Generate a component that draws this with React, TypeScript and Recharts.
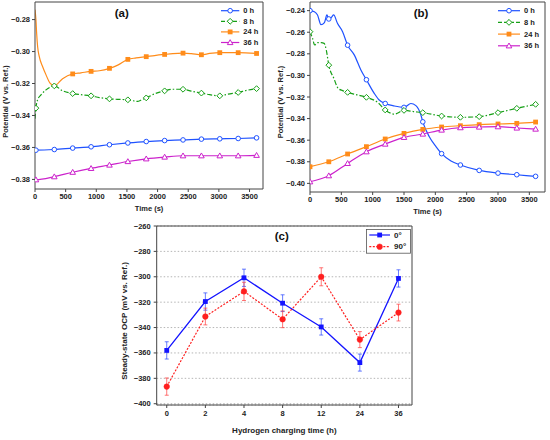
import React from 'react';
import { LineChart, Line, XAxis, YAxis, ReferenceLine, CartesianGrid, ErrorBar } from 'recharts';

// ---- panel (a): OCP vs time, first specimen set ----
const A_MARKS = [15, 315, 615, 915, 1215, 1515, 1815, 2115, 2415, 2715, 3015, 3315, 3615];

const A_0H_T = [0, ...A_MARKS];
const A_0H_V = [-0.3612, -0.3617, -0.3613, -0.3604, -0.3596, -0.3583, -0.3572, -0.3563, -0.3557, -0.3553, -0.3548, -0.3546, -0.3544, -0.354];

const A_8H_T = [0, 15, 43, 98, 180, 245, 315, 450, 615, 750, 915, 1050, 1215, 1350, 1515, 1600, 1670, 1740, 1815, 1950, 2115, 2250, 2415, 2550, 2715, 2850, 3015, 3150, 3315, 3450, 3615];
const A_8H_V = [-0.342, -0.3354, -0.3302, -0.3271, -0.324, -0.3223, -0.3215, -0.3245, -0.3263, -0.327, -0.3277, -0.3288, -0.3296, -0.3299, -0.3302, -0.3308, -0.3312, -0.3302, -0.329, -0.3265, -0.3246, -0.3236, -0.3236, -0.3248, -0.326, -0.327, -0.3277, -0.3266, -0.3256, -0.3243, -0.3232];

const A_24H_T = [0, 15, 27, 43, 70, 125, 180, 245, 315, 450, 615, 750, 915, 1050, 1215, 1350, 1515, 1650, 1815, 1950, 2115, 2250, 2415, 2550, 2715, 2850, 3015, 3315, 3615];
const A_24H_V = [-0.2738, -0.28, -0.2887, -0.297, -0.3032, -0.3095, -0.3146, -0.3198, -0.3215, -0.317, -0.314, -0.3133, -0.3124, -0.312, -0.3105, -0.3085, -0.3049, -0.304, -0.3032, -0.3025, -0.3018, -0.3013, -0.301, -0.3013, -0.302, -0.3012, -0.3007, -0.3007, -0.3012];

const A_36H_T = [0, ...A_MARKS];
const A_36H_V = [-0.38, -0.3802, -0.3783, -0.3755, -0.3731, -0.371, -0.3688, -0.3671, -0.366, -0.3652, -0.3652, -0.3652, -0.3652, -0.3649];

// ---- panel (b) ----
const B_MARKS = [0, 300, 600, 900, 1200, 1500, 1800, 2100, 2400, 2700, 3000, 3300, 3600];

const B_0H_T = [0, 70, 120, 175, 230, 270, 300, 345, 377, 440, 520, 600, 706, 812, 900, 1025, 1104, 1200, 1343, 1500, 1610, 1690, 1770, 1800, 1904, 2010, 2100, 2250, 2400, 2700, 3000, 3300, 3600];
const B_0H_V = [-0.24, -0.241, -0.244, -0.253, -0.251, -0.244, -0.2477, -0.246, -0.244, -0.252, -0.2595, -0.272, -0.281, -0.295, -0.304, -0.3166, -0.3228, -0.326, -0.3283, -0.3296, -0.326, -0.328, -0.3367, -0.343, -0.3568, -0.366, -0.3725, -0.3793, -0.383, -0.388, -0.3905, -0.392, -0.3935];

const B_8H_T = [0, 40, 75, 120, 180, 225, 260, 300, 380, 450, 520, 600, 750, 900, 1080, 1200, 1350, 1500, 1650, 1800, 2100, 2400, 2700, 3000, 3300, 3600];
const B_8H_V = [-0.2595, -0.2656, -0.2718, -0.2697, -0.2697, -0.2703, -0.2765, -0.2905, -0.3027, -0.312, -0.3141, -0.3157, -0.318, -0.3203, -0.325, -0.332, -0.3358, -0.3324, -0.3335, -0.3345, -0.3376, -0.3388, -0.3382, -0.3345, -0.3305, -0.3268];

const B_24H_V = [-0.3846, -0.38, -0.3728, -0.366, -0.3589, -0.3537, -0.35, -0.3478, -0.3466, -0.3456, -0.345, -0.3444, -0.3432];
const B_36H_V = [-0.3985, -0.3929, -0.3815, -0.3707, -0.3636, -0.3574, -0.3543, -0.3506, -0.3484, -0.3478, -0.3475, -0.3487, -0.3497];

const TIME_TICKS = [0, 500, 1000, 1500, 2000, 2500, 3000, 3500];
const A_Y_TICKS = [-0.38, -0.36, -0.34, -0.32, -0.3, -0.28];
const B_Y_TICKS = [-0.4, -0.38, -0.36, -0.34, -0.32, -0.3, -0.28, -0.26, -0.24];

// ---- panel (c): steady-state OCP ----
const CHARGE_TIMES = ['0', '2', '4', '8', '12', '24', '36'];
const OCP_0 = [-358, -319.5, -300.8, -320.8, -339.5, -367.6, -301.3];
const ERR_0 = [6.8, 6.8, 6.8, 6.6, 6.4, 6.7, 6.8];
const OCP_90 = [-386.5, -331.3, -311.5, -333.5, -300, -349.5, -328.2];
const ERR_90 = [6.8, 6.6, 7.2, 6.6, 7.1, 6.3, 6.6];
const C_Y_TICKS = [-400, -380, -360, -340, -320, -300, -280, -260];

const BLUE = '#1f52ff';
const GREEN = '#16a016';
const ORANGE = '#ff8c1a';
const MAGENTA = '#cc22cc';
const C_BLUE = '#1414ff';
const C_RED = '#ff1f1f';
const AXIS = '#444';
const FONT = '"Liberation Sans", Arial, sans-serif';

type Shape = 'circle' | 'diamond' | 'square' | 'triangle' | 'dot';

const pts = (t: number[], v: number[]) => t.map((x, i) => ({ t: x, v: v[i] }));
const minus = (s: string) => s.replace('-', '\u2212');

function Marker({ shape, x, y, color }: { shape: Shape; x: number; y: number; color: string }) {
  if (shape === 'circle') return <circle cx={x} cy={y} r={2.3} fill="#fff" stroke={color} strokeWidth={1} />;
  if (shape === 'dot') return <circle cx={x} cy={y} r={2.8} fill={color} stroke={color} strokeWidth={0.5} />;
  if (shape === 'square') return <rect x={x - 2.4} y={y - 2.4} width={4.8} height={4.8} fill={color} />;
  if (shape === 'diamond') {
    const d = 2.9;
    return <polygon points={`${x},${y - d} ${x + d},${y} ${x},${y + d} ${x - d},${y}`} fill="#fff" stroke={color} strokeWidth={1} />;
  }
  const d = 2.8;
  return <polygon points={`${x},${y - d} ${x + d},${y + d * 0.75} ${x - d},${y + d * 0.75}`} fill="#fff" stroke={color} strokeWidth={1} />;
}

const dotAt = (marks: number[] | null, shape: Shape, color: string) => (p: any) => {
  const show = marks ? marks.includes(p.payload.t) : true;
  if (!show || p.cx == null || p.cy == null) return <g key={`d${p.index}`} />;
  return <Marker key={`d${p.index}`} shape={shape} x={p.cx} y={p.cy} color={color} />;
};

const yTick = (fmt: (v: number) => string) => (p: any) => (
  <text x={p.x} y={p.y} textAnchor="end" dominantBaseline="central" fontSize={7.5} fontWeight="bold"
    fill="#222" fontFamily={FONT}>{fmt(p.payload.value)}</text>
);

const yTitle = (value: string, x: number, dy: number, size: number) => (props: any) => {
  const vb = props.viewBox;
  const cy = vb.y + vb.height / 2 + dy;
  return (
    <text x={x} y={cy} transform={`rotate(-90, ${x}, ${cy})`} textAnchor="middle" dominantBaseline="central"
      fontSize={size} fontWeight="bold" fill="#222" fontFamily={FONT}>{value}</text>
  );
};

const xTitle = (value: string, dy: number, size: number) => (props: any) => {
  const vb = props.viewBox;
  return (
    <text x={vb.x + vb.width / 2} y={vb.y + dy} textAnchor="middle" dominantBaseline="central"
      fontSize={size} fontWeight="bold" fill="#222" fontFamily={FONT}>{value}</text>
  );
};

type KeyItem = { label: string; color: string; dash?: string; shape: Shape };

function SeriesKey({ items, left, top, y0, gap, x1, x2, size, box }: {
  items: KeyItem[]; left: number; top: number; y0: number; gap: number; x1: number; x2: number; size: number; box?: boolean;
}) {
  const h = y0 * 2 + gap * (items.length - 1);
  return (
    <svg style={{ position: 'absolute', left, top }} width={x2 + 26} height={h + 2}>
      {box && <rect x={0.5} y={0.5} width={x2 + 20} height={h} fill="#fff" stroke="#555" strokeWidth={0.8} />}
      {items.map((it, i) => {
        const y = y0 + i * gap;
        return (
          <g key={it.label}>
            <line x1={x1} x2={x2} y1={y} y2={y} stroke={it.color} strokeWidth={1.2} strokeDasharray={it.dash} />
            <Marker shape={it.shape} x={(x1 + x2) / 2} y={y} color={it.color} />
            <text x={x2 + 4} y={y} dominantBaseline="central" fontSize={size} fontWeight="bold" fill="#222" fontFamily={FONT}>{it.label}</text>
          </g>
        );
      })}
    </svg>
  );
}

function Title({ text, x, y }: { text: string; x: number; y: number }) {
  return (
    <div style={{ position: 'absolute', left: x, top: y, transform: 'translate(-50%, -50%)', fontSize: 11.5, fontWeight: 'bold', color: '#111', fontFamily: FONT, lineHeight: 1 }}>
      {text}
    </div>
  );
}

const tickStyle = (size: number) => ({ fontSize: size, fontWeight: 'bold' as const, fill: '#222', fontFamily: FONT });

const TIME_KEYS: KeyItem[] = [
  { label: '0 h', color: BLUE, shape: 'circle' },
  { label: '8 h', color: GREEN, dash: '4 2', shape: 'diamond' },
  { label: '24 h', color: ORANGE, shape: 'square' },
  { label: '36 h', color: MAGENTA, shape: 'triangle' },
];

function TimePanel({ id, domainX, domainY, yTicks, series, margin, xHeight, titleDy }: any) {
  return (
    <LineChart width={275} height={220} margin={margin}>
      <XAxis dataKey="t" type="number" domain={domainX} ticks={TIME_TICKS} allowDataOverflow interval={0}
        tickSize={3} tickMargin={2} height={xHeight} stroke={AXIS} tick={tickStyle(7.5)}
        label={{ content: xTitle('Time (s)', 19, 7.5) }} />
      <YAxis type="number" domain={domainY} ticks={yTicks} allowDataOverflow width={35} interval={0}
        tickSize={3} tickMargin={2} stroke={AXIS} tick={yTick((v: number) => minus(v.toFixed(2)))}
        label={{ content: yTitle('Potential (V vs. Ref.)', 5.5, titleDy, 7.5) }} />
      <ReferenceLine y={domainY[1]} stroke={AXIS} strokeWidth={1} ifOverflow="visible" />
      <ReferenceLine x={domainX[1]} stroke={AXIS} strokeWidth={1} ifOverflow="visible" />
      {series.map((s: any) => (
        <Line key={id + s.name} data={s.data} dataKey="v" type="monotone" stroke={s.color} strokeWidth={1.2}
          strokeDasharray={s.dash} dot={dotAt(s.marks, s.shape, s.color)} activeDot={false} isAnimationActive={false} />
      ))}
    </LineChart>
  );
}

const A_SERIES = [
  { name: '0h', data: pts(A_0H_T, A_0H_V), color: BLUE, shape: 'circle', marks: A_MARKS },
  { name: '8h', data: pts(A_8H_T, A_8H_V), color: GREEN, shape: 'diamond', marks: A_MARKS, dash: '5 2 1.5 2' },
  { name: '24h', data: pts(A_24H_T, A_24H_V), color: ORANGE, shape: 'square', marks: A_MARKS.slice(2) },
  { name: '36h', data: pts(A_36H_T, A_36H_V), color: MAGENTA, shape: 'triangle', marks: A_MARKS },
];

const B_SERIES = [
  { name: '0h', data: pts(B_0H_T, B_0H_V), color: BLUE, shape: 'circle', marks: B_MARKS },
  { name: '8h', data: pts(B_8H_T, B_8H_V), color: GREEN, shape: 'diamond', marks: B_MARKS, dash: '5 2 1.5 2' },
  { name: '24h', data: pts(B_MARKS, B_24H_V), color: ORANGE, shape: 'square', marks: null },
  { name: '36h', data: pts(B_MARKS, B_36H_V), color: MAGENTA, shape: 'triangle', marks: null },
];

const OCP_ROWS = CHARGE_TIMES.map((_, i) => ({ i, a: OCP_0[i], ea: ERR_0[i], b: OCP_90[i], eb: ERR_90[i] }));

export default function App() {
  return (
    <div style={{ position: 'absolute', left: 0, top: 0, width: 550, height: 440, background: '#fff', fontFamily: FONT }}>
      <div style={{ position: 'absolute', left: 0, top: 0, width: 275, height: 220 }}>
        <TimePanel id="a" domainX={[0, 3720]} domainY={[-0.386, -0.269]} yTicks={A_Y_TICKS} series={A_SERIES}
          margin={{ top: 2, right: 12, bottom: 0, left: 0 }} xHeight={31} titleDy={6} />
        <SeriesKey items={TIME_KEYS} left={215} top={0} y0={10.7} gap={10.6} x1={6} x2={24.3} size={7.5} />
        <Title text="(a)" x={121.7} y={14} />
      </div>
      <div style={{ position: 'absolute', left: 275, top: 0, width: 275, height: 220 }}>
        <TimePanel id="b" domainX={[0, 3750]} domainY={[-0.408, -0.232]} yTicks={B_Y_TICKS} series={B_SERIES}
          margin={{ top: 2, right: 5, bottom: 0, left: 0 }} xHeight={28} titleDy={5} />
        <SeriesKey items={TIME_KEYS} left={218} top={0} y0={10.7} gap={11.7} x1={5} x2={27} size={7.5} />
        <Title text="(b)" x={146} y={14} />
      </div>
      <div style={{ position: 'absolute', left: 80, top: 220, width: 400, height: 220 }}>
        <LineChart width={400} height={220} data={OCP_ROWS} margin={{ top: 6, right: 68, bottom: 0, left: 36 }}>
          <CartesianGrid vertical={false} stroke="#b5b5b5" strokeDasharray="1.5 2" />
          <XAxis dataKey="i" type="number" domain={[-0.26, 6.35]} ticks={[0, 1, 2, 3, 4, 5, 6]} allowDataOverflow interval={0}
            tickFormatter={(i: number) => CHARGE_TIMES[i]} tickSize={3} tickMargin={3} height={35} stroke={AXIS}
            tick={tickStyle(7.5)} label={{ content: xTitle('Hydrogen charging time (h)', 25.7, 8) }} />
          <YAxis type="number" domain={[-401, -260]} ticks={C_Y_TICKS} allowDataOverflow width={40.7} interval={0}
            tickSize={3} tickMargin={3} stroke={AXIS} tick={yTick((v: number) => minus(String(v)))}
            label={{ content: yTitle('Steady-state OCP (mV vs. Ref.)', 44, 5.5, 8) }} />
          <ReferenceLine y={-260} stroke={AXIS} strokeWidth={1} ifOverflow="visible" />
          <ReferenceLine x={6.35} stroke={AXIS} strokeWidth={1} ifOverflow="visible" />
          <Line dataKey="a" type="linear" stroke={C_BLUE} strokeWidth={1.3} dot={dotAt(null, 'square', C_BLUE)}
            activeDot={false} isAnimationActive={false}>
            <ErrorBar dataKey="ea" width={2} stroke="rgba(40,70,255,0.7)" strokeWidth={1} direction="y" />
          </Line>
          <Line dataKey="b" type="linear" stroke={C_RED} strokeWidth={1.2} strokeDasharray="2 1.5"
            dot={dotAt(null, 'dot', C_RED)} activeDot={false} isAnimationActive={false}>
            <ErrorBar dataKey="eb" width={2} stroke="rgba(255,60,60,0.7)" strokeWidth={1} direction="y" />
          </Line>
        </LineChart>
        <SeriesKey items={[
          { label: '0\u00b0', color: C_BLUE, shape: 'square' },
          { label: '90\u00b0', color: C_RED, dash: '2 1.5', shape: 'dot' },
        ]} left={286} top={9} y0={6} gap={11.7} x1={3.3} x2={24} size={8} box />
        <Title text="(c)" x={201.7} y={16.7} />
      </div>
    </div>
  );
}
